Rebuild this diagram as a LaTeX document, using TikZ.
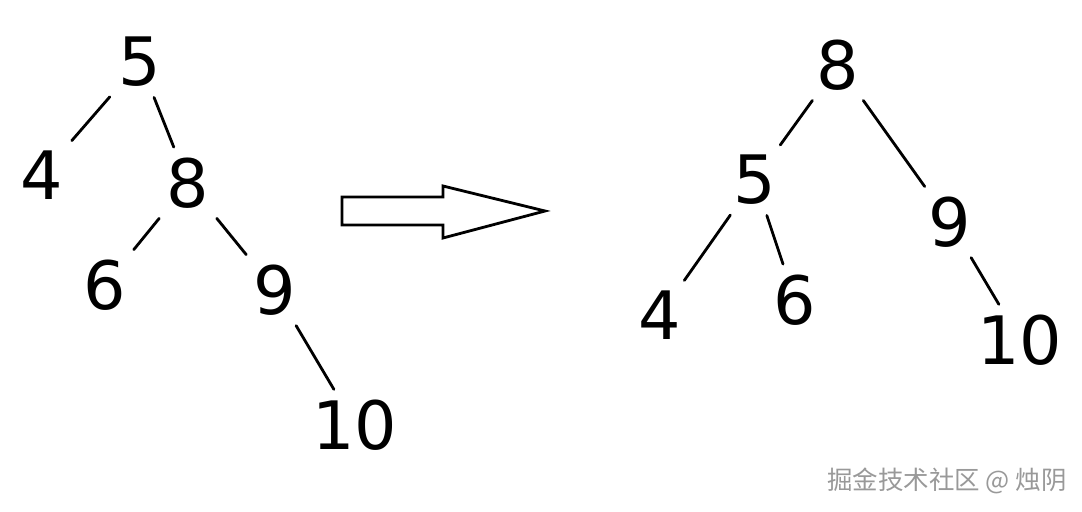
\documentclass[tikz,border=0pt]{standalone}
\usepackage{fontspec}
\newfontfamily\cjk{Noto Sans CJK SC}
\setsansfont{DejaVu Sans}
\usetikzlibrary{positioning, calc}

\begin{document}
\begin{tikzpicture}[x=0.02cm, y=-0.02cm,
		digit/.style={font=\fontsize{38}{38}\sffamily\selectfont, inner sep=4pt},
		edge/.style={line width=1.6pt, line cap=round, shorten >=2pt, shorten <=2pt}]
		\useasboundingbox (0,0) rectangle (1082,511);
		
		% Left tree
		\node[digit] (l5) at (140,62) {5};
		\node[digit] (l4) at (42,175) {4};
		\node[digit] (l8) at (188,183) {8};
		\node[digit] (l6) at (105,285) {6};
		\node[digit] (l9) at (275,290) {9};
		\node[digit] (l10) at (355,425) {10};
		
		\draw[edge] (l5) -- (l4);
		\draw[edge] (l5) -- (l8);
		\draw[edge] (l8) -- (l6);
		\draw[edge] (l8) -- (l9);
		\draw[edge] (l9) -- (l10);
		
		% Rotation arrow
		\draw[line width=1.6pt] (342,197) -- (443,197) -- (443,186) -- (545,211)
			-- (443,238) -- (443,225) -- (342,225) -- cycle;
		
		% Right tree
		\node[digit] (r8) at (838,65) {8};
		\node[digit] (r5) at (755,180) {5};
		\node[digit] (r9) at (950,222) {9};
		\node[digit] (r4) at (660,315) {4};
		\node[digit] (r6) at (795,300) {6};
		\node[digit] (r10) at (1020,340) {10};
		
		\draw[edge] (r8) -- (r5);
		\draw[edge] (r8) -- (r9);
		\draw[edge] (r5) -- (r4);
		\draw[edge] (r5) -- (r6);
		\draw[edge] (r9) -- (r10);
		
		% Watermark
		\node[font=\cjk\fontsize{14.5}{14.5}\selectfont, text=gray!80] (mark) at (947,481) {掘金技术社区 @ 烛阴};
	\end{tikzpicture}
\end{document}
